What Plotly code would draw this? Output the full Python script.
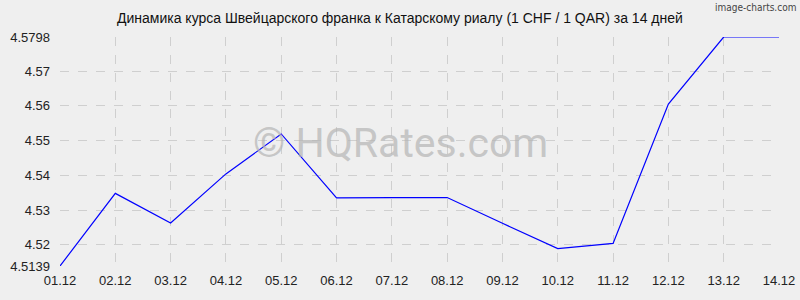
import plotly.graph_objects as go

dates = ["01.12", "02.12", "03.12", "04.12", "05.12", "06.12", "07.12",
         "08.12", "09.12", "10.12", "11.12", "12.12", "13.12", "14.12"]
rates = [4.5139, 4.5348, 4.5263, 4.5404, 4.5519, 4.5335, 4.5336,
         4.5336, 4.5262, 4.5189, 4.5204, 4.5605, 4.5798, 4.5798]
y_ticks = [4.5139, 4.52, 4.53, 4.54, 4.55, 4.56, 4.57, 4.5798]
y_tick_text = ["4.5139", "4.52", "4.53", "4.54", "4.55", "4.56", "4.57", "4.5798"]

title = "Динамика курса Швейцарского франка к Катарскому риалу (1 CHF / 1 QAR) за 14 дней"

fig = go.Figure()
fig.add_trace(go.Scatter(
    x=list(range(len(dates))), y=rates, mode="lines",
    line=dict(color="#0000ff", width=1.2), hoverinfo="skip",
))

grid = dict(showgrid=True, gridcolor="#cfcfcf", griddash="dash", gridwidth=1,
            zeroline=False, showline=False, ticks="", automargin=False,
            tickfont=dict(family="Liberation Sans, Arial, sans-serif", size=13, color="#222222"))

fig.update_layout(
    width=800, height=300,
    margin=dict(l=60, r=21, t=37, b=34),
    paper_bgcolor="#efefef", plot_bgcolor="#efefef",
    showlegend=False,
    xaxis=dict(range=[0, len(dates) - 1], tickvals=list(range(len(dates))),
               ticktext=dates, ticklabelstandoff=5, **grid),
    yaxis=dict(range=[y_ticks[0], y_ticks[-1]], tickvals=y_ticks,
               ticktext=y_tick_text, ticklabelstandoff=9, **grid),
    annotations=[
        dict(text=title, xref="paper", yref="paper", x=0.4729, y=1, yshift=19,
             xanchor="center", yanchor="middle", showarrow=False,
             font=dict(family="Liberation Sans, Arial, sans-serif", size=14, color="#111111")),
        dict(text="image-charts.com", xref="paper", yref="paper", x=1, xshift=19, y=1, yshift=30,
             xanchor="right", yanchor="middle", showarrow=False,
             font=dict(family="DejaVu Sans Condensed, DejaVu Sans, sans-serif", size=10, color="#444444")),
        dict(text="© HQRates.com", xref="paper", yref="paper", x=0.4729, y=0.53, yshift=2,
             xanchor="center", yanchor="middle", showarrow=False,
             font=dict(family="Roboto, Noto Sans, sans-serif", size=41, color="rgba(180,180,180,0.7)")),
    ],
)

fig.write_html("out.html")
